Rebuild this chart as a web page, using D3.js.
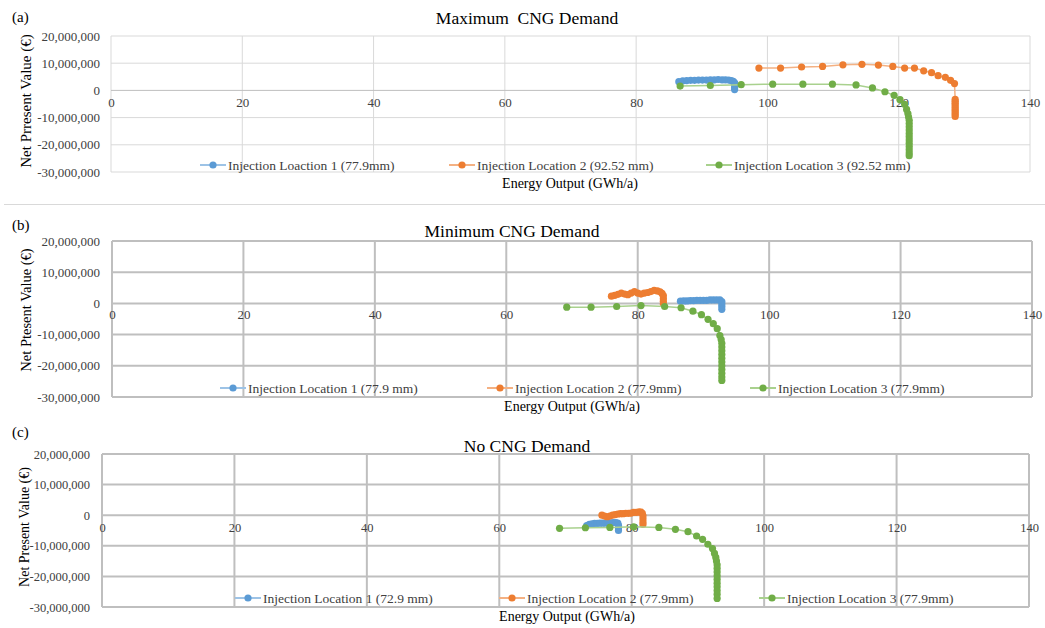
<!DOCTYPE html>
<html>
<head>
<meta charset="utf-8">
<script src="https://cdn.jsdelivr.net/npm/d3@7"></script>
<style>
  html, body { margin: 0; padding: 0; background: #fff; }
  svg { display: block; font-family: "Liberation Serif", "Times New Roman", serif; }
</style>
</head>
<body>
<svg id="chart" width="1045" height="628"></svg>
<script>
// ---- Axis ticks (energy in GWh/a, NPV in million €) ----
const xTicks = [0, 20, 40, 60, 80, 100, 120, 140];
const yTicks = [20, 10, 0, -10, -20, -30];

// ---- Text ----
const panelTags = ["(a)", "(b)", "(c)"];
const panelTitles = ["Maximum  CNG Demand", "Minimum CNG Demand", "No CNG Demand"];
const yTitles = ["Net Prresent Value (\u20AC)", "Net Ptesent Value (\u20AC)", "Net Present Value (\u20AC)"];
const xTitle = "Energy Output (GWh/a)";
const legendMax = ["Injection Loaction 1 (77.9mm)", "Injection Location 2 (92.52 mm)", "Injection Location 3 (92.52 mm)"];
const legendMin = ["Injection Location 1 (77.9 mm)", "Injection Location 2 (77.9mm)", "Injection Location 3 (77.9mm)"];
const legendNone = ["Injection Location 1 (72.9 mm)", "Injection Location 2 (77.9mm)", "Injection Location 3 (77.9mm)"];

// ---- (a) Maximum CNG demand ----
const maxLoc1X = [86.5, 87.1, 87.7, 88.3, 88.9, 89.5, 90.1, 90.7, 91.3, 91.9, 92.5, 93.1, 93.6, 94.1, 94.5, 94.8, 95.0, 95.0, 95.0, 95.0];
const maxLoc1Y = [3.2, 3.5, 3.6, 3.7, 3.7, 3.8, 3.8, 3.8, 3.9, 3.9, 4.0, 3.9, 3.9, 3.8, 3.6, 3.3, 2.8, 2.0, 1.1, 0.3];
const maxLoc2X = [98.7, 102.0, 105.2, 108.4, 111.5, 114.4, 116.9, 119.1, 120.9, 122.4, 123.8, 125.0, 126.0, 127.1, 127.9, 128.5,
                  128.6, 128.6, 128.6, 128.6, 128.6, 128.6, 128.6, 128.6, 128.6, 128.6];
const maxLoc2Y = [8.2, 8.2, 8.6, 8.8, 9.4, 9.6, 9.3, 8.8, 8.2, 8.2, 7.2, 6.5, 5.4, 4.8, 3.7, 2.5,
                  -3.3, -4.0, -4.7, -5.4, -6.1, -6.8, -7.5, -8.2, -8.9, -9.6];
const maxLoc3X = [86.7, 91.3, 96.0, 100.8, 105.4, 109.9, 113.5, 116.0, 117.9, 119.3, 120.2, 120.9, 121.2,
                  121.4, 121.5, 121.6, 121.6, 121.6, 121.6, 121.6, 121.6, 121.6, 121.6, 121.6, 121.6, 121.6, 121.6];
const maxLoc3Y = [1.6, 1.8, 2.1, 2.3, 2.3, 2.3, 2.0, 0.9, -0.5, -1.8, -3.4, -5.1, -7.0,
                  -8.5, -9.8, -11.0, -12.2, -13.4, -14.6, -15.8, -17.0, -18.2, -19.4, -20.6, -21.8, -23.0, -24.0];

// ---- (b) Minimum CNG demand ----
const minLoc1X = [86.5, 87.0, 87.5, 88.0, 88.5, 89.0, 89.5, 90.0, 90.5, 91.0, 91.5, 92.0, 92.5, 92.8, 92.8, 92.8, 92.8];
const minLoc1Y = [0.7, 0.8, 0.8, 0.9, 0.9, 1.0, 1.0, 1.0, 1.0, 1.1, 1.1, 1.1, 1.1, 0.6, -0.2, -1.0, -1.9];
const minLoc2X = [76.0, 76.5, 77.0, 77.5, 78.0, 78.5, 79.0, 79.5, 80.0, 80.5, 81.0, 81.5, 82.0, 82.5, 83.0, 83.4, 83.7,
                  83.9, 83.9, 83.9, 83.9];
const minLoc2Y = [2.3, 2.6, 2.9, 3.3, 3.0, 2.8, 3.3, 3.8, 3.3, 3.0, 3.3, 3.5, 3.8, 4.2, 4.0, 3.7, 3.2,
                  2.5, 1.6, 0.7, -0.2];
const minLoc3X = [69.2, 72.9, 76.8, 80.5, 84.1, 86.6, 88.4, 89.7, 90.7, 91.5, 92.1, 92.5, 92.7,
                  92.8, 92.8, 92.8, 92.8, 92.8, 92.8, 92.8, 92.8, 92.8, 92.8, 92.8];
const minLoc3Y = [-1.2, -1.2, -1.0, -0.7, -1.0, -1.4, -2.5, -3.6, -5.1, -6.5, -8.1, -10.3, -11.6,
                  -12.8, -14.0, -15.2, -16.4, -17.6, -18.8, -20.0, -21.2, -22.4, -23.6, -24.7];

// ---- (c) No CNG demand ----
const noLoc1X = [73.2, 73.6, 74.0, 74.4, 74.8, 75.2, 75.6, 76.0, 76.4, 76.8, 77.2, 77.6, 77.9, 78.0, 78.0, 78.0];
const noLoc1Y = [-3.4, -3.0, -2.8, -2.7, -2.7, -2.6, -2.6, -2.6, -2.5, -2.5, -2.4, -2.4, -2.6, -3.3, -4.2, -5.0];
const noLoc2X = [75.5, 75.9, 76.3, 76.7, 77.1, 77.5, 77.9, 78.3, 78.7, 79.1, 79.5, 79.9, 80.3, 80.7, 81.1, 81.4, 81.6,
                 81.7, 81.7, 81.7, 81.7];
const noLoc2Y = [0.0, -0.3, -0.5, -0.3, 0.0, 0.2, 0.4, 0.5, 0.5, 0.6, 0.6, 0.7, 0.9, 0.9, 1.1, 1.0, 0.6,
                 -0.2, -1.2, -2.2, -3.0];
const noLoc3X = [69.1, 73.0, 76.7, 80.3, 84.1, 86.6, 88.5, 89.8, 90.7, 91.5, 92.2, 92.5, 92.7,
                 92.8, 92.9, 92.9, 92.9, 92.9, 92.9, 92.9, 92.9, 92.9, 92.9, 92.9];
const noLoc3Y = [-4.3, -4.1, -4.0, -3.8, -4.0, -4.6, -5.4, -6.8, -7.9, -9.5, -10.9, -12.5, -13.8,
                 -15.0, -16.2, -17.4, -18.6, -19.8, -21.0, -22.2, -23.4, -24.6, -25.8, -27.2];

// ---- Styling ----
const markerColors = ["#5b9bd5", "#ed7d31", "#70ad47"];
const lineColors = ["#9dc3e6", "#f4b183", "#a9d18e"];

const svg = d3.select("#chart");

// thin divider between the first and second chart
svg.append("line").attr("x1", 4).attr("x2", 1045).attr("y1", 204.5).attr("y2", 204.5)
  .attr("stroke", "#d9d9d9").attr("stroke-width", 1);

const panels = [
  { tag: panelTags[0], title: panelTitles[0], yTitle: yTitles[0], legend: legendMax,
    series: [[maxLoc1X, maxLoc1Y], [maxLoc2X, maxLoc2Y], [maxLoc3X, maxLoc3Y]],
    box: { x0: 111, x1: 1030, y0: 36, y1: 172 }, grid: { color: "#d9d9d9", width: 1 },
    tagY: 22, titleX: 527, titleY: 24, yLabelRight: 100, xLabelDy: 20, xTitleX: 570, xTitleY: 188,
    legendY: 165, legendMarks: [213, 462, 719], yTitleX: 31, yTitleMid: 101,
    tickSize: 13, yTitleSize: 15 },
  { tag: panelTags[1], title: panelTitles[1], yTitle: yTitles[1], legend: legendMin,
    series: [[minLoc1X, minLoc1Y], [minLoc2X, minLoc2Y], [minLoc3X, minLoc3Y]],
    box: { x0: 112, x1: 1032, y0: 241, y1: 397 }, grid: { color: "#bfbfbf", width: 2 },
    tagY: 230, titleX: 512, titleY: 237, yLabelRight: 100, xLabelDy: 19, xTitleX: 572, xTitleY: 411,
    legendY: 388, legendMarks: [233, 500, 763], yTitleX: 31, yTitleMid: 310,
    tickSize: 13, yTitleSize: 14.5 },
  { tag: panelTags[2], title: panelTitles[2], yTitle: yTitles[2], legend: legendNone,
    series: [[noLoc1X, noLoc1Y], [noLoc2X, noLoc2Y], [noLoc3X, noLoc3Y]],
    box: { x0: 102, x1: 1029, y0: 454, y1: 607 }, grid: { color: "#bfbfbf", width: 2 },
    tagY: 437, titleX: 527, titleY: 452, yLabelRight: 90, xLabelDy: 21, xTitleX: 567, xTitleY: 621,
    legendY: 598, legendMarks: [248, 512, 772], yTitleX: 29, yTitleMid: 527,
    tickSize: 12.5, yTitleSize: 14 }
];

// Excel-style thousands separators with a plain hyphen for negatives
const fmtNpv = v => d3.format(",")(v * 1e6).replace("\u2212", "-");

panels.forEach(p => {
  const g = svg.append("g");
  const x = d3.scaleLinear().domain([0, 140]).range([p.box.x0, p.box.x1]);
  const y = d3.scaleLinear().domain([-30, 20]).range([p.box.y1, p.box.y0]);

  // gridlines
  g.append("g").selectAll("line.v").data(xTicks).join("line")
    .attr("x1", d => x(d)).attr("x2", d => x(d))
    .attr("y1", p.box.y0).attr("y2", p.box.y1)
    .attr("stroke", p.grid.color).attr("stroke-width", p.grid.width);
  g.append("g").selectAll("line.h").data(yTicks).join("line")
    .attr("x1", p.box.x0).attr("x2", p.box.x1)
    .attr("y1", d => y(d)).attr("y2", d => y(d))
    .attr("stroke", d => (d === 0 && p.grid.width === 1) ? "#bfbfbf" : p.grid.color)
    .attr("stroke-width", p.grid.width);

  // y tick labels
  const yAxis = d3.axisLeft(y).tickValues(yTicks).tickFormat(fmtNpv).tickSize(0).tickPadding(0);
  const ya = g.append("g").attr("transform", `translate(${p.yLabelRight},0)`).call(yAxis);
  ya.select(".domain").remove();
  ya.selectAll("text").attr("font-family", "Liberation Serif").attr("font-size", p.tickSize).attr("fill", "#404040");

  // x tick labels, hung below the zero line
  const xAxis = d3.axisBottom(x).tickValues(xTicks).tickFormat(d3.format("d")).tickSize(0).tickPadding(0);
  const xa = g.append("g").attr("transform", `translate(0,${y(0) + p.xLabelDy - 13})`).call(xAxis);
  xa.select(".domain").remove();
  xa.selectAll("text").attr("dy", "0.71em").attr("font-family", "Liberation Serif").attr("font-size", p.tickSize).attr("fill", "#404040");

  // series: light connecting line with solid dots
  p.series.forEach((s, i) => {
    const pts = s[0].map((v, k) => [v, s[1][k]]);
    g.append("path").datum(pts)
      .attr("fill", "none").attr("stroke", lineColors[i]).attr("stroke-width", 1.5)
      .attr("d", d3.line().x(d => x(d[0])).y(d => y(d[1])));
    g.append("g").selectAll("circle").data(pts).join("circle")
      .attr("cx", d => x(d[0])).attr("cy", d => y(d[1])).attr("r", 3.6)
      .attr("fill", markerColors[i]);
  });

  // legend
  p.legend.forEach((name, i) => {
    const cx = p.legendMarks[i];
    g.append("line").attr("x1", cx - 13).attr("x2", cx + 13)
      .attr("y1", p.legendY).attr("y2", p.legendY)
      .attr("stroke", lineColors[i]).attr("stroke-width", 2);
    g.append("circle").attr("cx", cx).attr("cy", p.legendY).attr("r", 3.6).attr("fill", markerColors[i]);
    g.append("text").attr("x", cx + 15).attr("y", p.legendY + 4.5)
      .attr("font-size", 13.5).attr("fill", "#404040").text(name);
  });

  // titles
  g.append("text").attr("x", 12).attr("y", p.tagY).attr("font-size", 15).attr("fill", "#000").text(p.tag);
  g.append("text").attr("x", p.titleX).attr("y", p.titleY).attr("text-anchor", "middle")
    .attr("font-size", 17.5).attr("fill", "#000").style("white-space", "pre").text(p.title);
  g.append("text").attr("x", p.xTitleX).attr("y", p.xTitleY).attr("text-anchor", "middle")
    .attr("font-size", 14).attr("fill", "#000").text(xTitle);
  g.append("text").attr("transform", `translate(${p.yTitleX},${p.yTitleMid}) rotate(-90)`).attr("text-anchor", "middle")
    .attr("font-size", p.yTitleSize).attr("fill", "#000").text(p.yTitle);
});
</script>
</body>
</html>
